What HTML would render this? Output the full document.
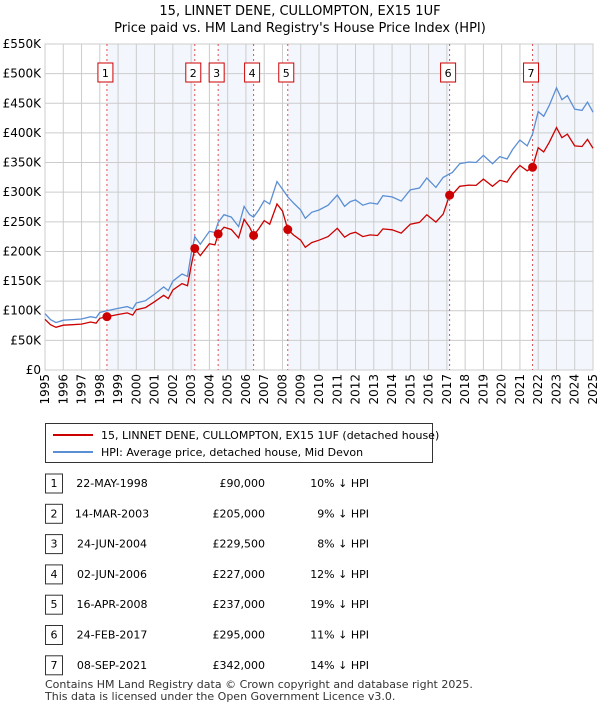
<!DOCTYPE html>
<html><head><meta charset="utf-8"><style>
body{margin:0;background:#fff;font-family:"Liberation Sans","DejaVu Sans",sans-serif;}
svg text{font-family:"DejaVu Sans","Liberation Sans",sans-serif;}
</style></head><body>
<svg id="c" width="600" height="710" viewBox="0 0 600 710" xmlns="http://www.w3.org/2000/svg">
<text x="300" y="15" text-anchor="middle" font-size="13">15, LINNET DENE, CULLOMPTON, EX15 1UF</text>
<text x="300" y="32" text-anchor="middle" font-size="13">Price paid vs. HM Land Registry's House Price Index (HPI)</text>
<g id="plot"></g>
<g>
<rect x="45.5" y="423.5" width="387" height="39" fill="#fff" stroke="#333"/>
<line x1="53" y1="435" x2="93" y2="435" stroke="#cc0000" stroke-width="2"/>
<text x="101" y="439" font-size="11">15, LINNET DENE, CULLOMPTON, EX15 1UF (detached house)</text>
<line x1="53" y1="452" x2="93" y2="452" stroke="#5b8fd4" stroke-width="2"/>
<text x="101" y="456" font-size="11">HPI: Average price, detached house, Mid Devon</text>
</g>
<g id="tbl"></g>
<text x="45" y="688" font-size="11" fill="#333">Contains HM Land Registry data © Crown copyright and database right 2025.</text>
<text x="45" y="700" font-size="11" fill="#333">This data is licensed under the Open Government Licence v3.0.</text>
</svg>
<script>
const hpiYears=[1995.0,1995.3,1995.6,1996.0,1996.5,1997.0,1997.5,1997.8,1998.0,1998.39,1999.0,1999.5,1999.8,2000.0,2000.5,2001.0,2001.5,2001.75,2002.0,2002.5,2002.8,2003.0,2003.2,2003.5,2004.0,2004.3,2004.48,2004.8,2005.2,2005.6,2005.9,2006.2,2006.42,2006.7,2007.0,2007.3,2007.7,2008.0,2008.29,2008.6,2009.0,2009.25,2009.6,2010.0,2010.5,2011.0,2011.4,2011.7,2012.0,2012.4,2012.8,2013.2,2013.5,2014.0,2014.5,2015.0,2015.5,2015.9,2016.4,2016.8,2017.15,2017.3,2017.7,2018.2,2018.6,2019.0,2019.5,2019.9,2020.3,2020.6,2021.0,2021.4,2021.69,2022.0,2022.3,2022.6,2023.0,2023.3,2023.6,2024.0,2024.4,2024.7,2025.0];
const hpiValues=[95,85,80,84,85,86,90,88,97,100,104,107,103,113,117,128,140,134,150,162,158,195,225,212,234,232,249,262,258,242,276,262,258,270,286,280,318,305,292,282,270,256,266,270,278,295,276,284,287,278,282,280,294,292,285,304,307,324,308,325,331,333,348,351,350,362,348,360,356,372,388,378,398,436,428,446,476,456,463,440,438,452,435];
const priceValues=[85.5,76.5,72,75.6,76.5,77.4,81,79.2,87.3,90,93.6,96.3,92.7,101.7,105.3,115.2,126,120.6,135,145.8,142.2,175.5,205,193,213,211,229.5,241,237,223,254,241,227,238,252,246,280,268,237,228,219,207,215,219,225,239,224,230,232.5,225,228,227,238,236.5,231,246,249,262,249.5,263,295,296,310,312,311.5,322,310,320,317,331,345,336,342,375,368,384,409,392,398,378,377,389,374];
const saleYears=[1998.39,2003.2,2004.48,2006.42,2008.29,2017.15,2021.69];
const salePrices=[90,205,229.5,227,237,295,342];
const saleDates=["22-MAY-1998","14-MAR-2003","24-JUN-2004","02-JUN-2006","16-APR-2008","24-FEB-2017","08-SEP-2021"];
const salePriceLabels=["£90,000","£205,000","£229,500","£227,000","£237,000","£295,000","£342,000"];
const salePct=["10%","9%","8%","12%","19%","11%","14%"];
const yTicks=[0,50,100,150,200,250,300,350,400,450,500,550];
const yTickLabels=["£0","£50K","£100K","£150K","£200K","£250K","£300K","£350K","£400K","£450K","£500K","£550K"];

const NS="http://www.w3.org/2000/svg";
const X0=45,X1=593,Y0=370,Y1=44;
const xs=y=>X0+(y-1995)/30*(X1-X0);
const ys=v=>Y0-v/550*(Y0-Y1);
const plot=document.getElementById('plot');
function mk(tag,attrs,parent){const e=document.createElementNS(NS,tag);for(const k in attrs)e.setAttribute(k,attrs[k]);(parent||plot).appendChild(e);return e;}

const bandEdges=saleYears.concat([2025]);
for(let i=0;i<bandEdges.length-1;i+=2){
  const r=mk('rect',{x:xs(bandEdges[i]),y:Y1,width:xs(bandEdges[i+1])-xs(bandEdges[i]),height:Y0-Y1,fill:'#eef3fc',opacity:'0.7'});
  
  
}
for(let y=1995;y<=2025;y++){
  const l=mk('line',{x1:xs(y),x2:xs(y),y1:Y1,y2:Y0,stroke:'#cccccc','stroke-width':1});
  
  
  const t=mk('text',{x:0,y:0,'font-size':12,'text-anchor':'end',transform:`translate(${xs(y)+4},${Y0+4}) rotate(-90)`});
  t.textContent=y;
  
  
}
yTicks.forEach((v,i)=>{
  const l=mk('line',{x1:X0,x2:X1,y1:ys(v),y2:ys(v),stroke:'#cccccc','stroke-width':1});
  
  
  const t=mk('text',{x:X0-4,y:ys(v)+4,'font-size':12,'text-anchor':'end'});
  t.textContent=yTickLabels[i];
  
  
});
mk('rect',{x:X0,y:Y1,width:X1-X0,height:Y0-Y1,fill:'none',stroke:'#cccccc'});
saleYears.forEach((s,i)=>{
  const l=mk('line',{x1:xs(s),x2:xs(s),y1:Y1,y2:Y0,stroke:'#e05050','stroke-width':1,'stroke-dasharray':'2,3'});
  
  
  const b=mk('rect',{x:xs(s)-9,y:63,width:15,height:19,fill:'#fff',stroke:'#cc0000'});
  
  
  const t=mk('text',{x:xs(s)-1.5,y:77,'font-size':11,'text-anchor':'middle'});
  t.textContent=i+1;
  
  
});
function path(vals,color,name){
  const d=vals.map((v,i)=>(i?'L':'M')+xs(hpiYears[i]).toFixed(1)+','+ys(v).toFixed(1)).join('');
  const p=mk('path',{d:d,fill:'none',stroke:color,'stroke-width':1.3});
  
  
}
path(hpiValues,'#5b8fd4','hpi-line');
path(priceValues,'#cc0000','price-paid-line');
saleYears.forEach((s,i)=>{
  const c=mk('circle',{cx:xs(s),cy:ys(salePrices[i]),r:4.5,fill:'#cc0000'});
  
  
});
const tbl=document.getElementById('tbl');
saleDates.forEach((d,i)=>{
  const y=483+i*30.3;
  const g=mk('g',{},tbl);
  
  
  mk('rect',{x:45.5,y:y-9,width:17,height:19,fill:'#fff',stroke:'#333'},g);
  const n=mk('text',{x:54,y:y+4,'font-size':11,'text-anchor':'middle'},g);n.textContent=i+1;
  const t1=mk('text',{x:112,y:y+4,'font-size':11,'text-anchor':'middle'},g);t1.textContent=d;
  const t2=mk('text',{x:265,y:y+4,'font-size':11,'text-anchor':'end'},g);t2.textContent=salePriceLabels[i];
  const t3=mk('text',{x:369,y:y+4,'font-size':11,'text-anchor':'end'},g);t3.textContent=salePct[i]+' ↓ HPI';
});
</script>
</body></html>
